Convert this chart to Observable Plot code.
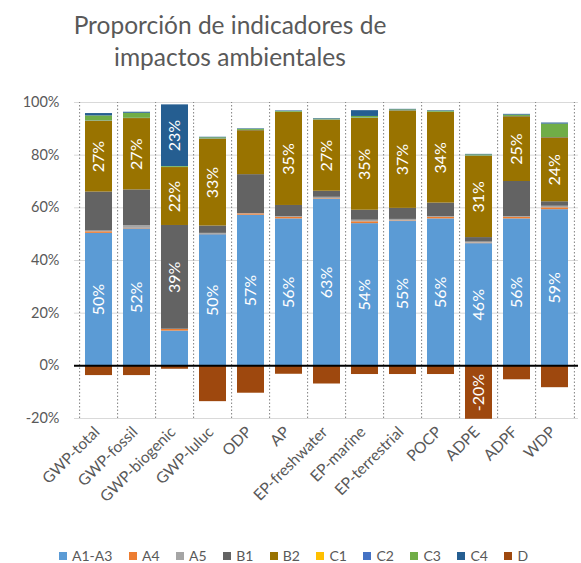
<!DOCTYPE html>
<html>
<head>
<meta charset="utf-8">
<script src="https://cdn.jsdelivr.net/npm/d3@7"></script>
<script src="https://cdn.jsdelivr.net/npm/@observablehq/plot@0.6"></script>
<style>
  body { margin: 0; background: #fff; font-family: Lato, "Open Sans", sans-serif; }
  #wrap { position: relative; width: 581px; height: 563px; }
  #title { position: absolute; left: 0; top: 9px; width: 460px; text-align: center;
           font-size: 24.5px; line-height: 32px; color: #595959; }
  #chart { position: absolute; left: 0; top: 80px; }
  #legend { position: absolute; left: 59px; top: 548px; display: flex; align-items: center;
            font-size: 14px; color: #595959; line-height: 15px; height: 15px; }
  .item { display: flex; align-items: center; margin-right: 16.5px; }
  .sw { width: 8px; height: 8px; margin-right: 5px; }
</style>
</head>
<body>
<div id="wrap">
  <div id="title">Proporción de indicadores de<br>impactos ambientales</div>
  <div id="chart"></div>
  <div id="legend"></div>
</div>
<script>
const categories = ["GWP-total","GWP-fossil","GWP-biogenic","GWP-luluc","ODP","AP","EP-freshwater","EP-marine","EP-terrestrial","POCP","ADPE","ADPF","WDP"];
const seriesNames = ["A1-A3","A4","A5","B1","B2","C1","C2","C3","C4","D"];
const colors = ["#5B9BD5","#ED7D31","#A5A5A5","#636363","#997300","#FFC000","#4472C4","#70AD47","#255E91","#9E480E"];

const A1A3 = [50.3, 52.0, 13.2, 49.8, 57.2, 55.8, 63.3, 54.0, 54.8, 55.8, 46.4, 55.8, 59.3];
const A4   = [0.6, 0.2, 0.6, 0.1, 0.5, 0.6, 0.2, 0.7, 0.2, 0.6, 0.2, 0.6, 0.7];
const A5   = [0.3, 1.0, 0.1, 0.4, 0.1, 0.2, 0.5, 0.6, 0.6, 0.2, 0.4, 0.2, 0.6];
const B1   = [14.8, 13.6, 39.4, 2.8, 14.8, 4.3, 2.3, 3.8, 4.2, 5.2, 1.7, 13.4, 1.7];
const B2   = [26.9, 27.1, 22.0, 33.0, 16.7, 35.3, 27.0, 34.9, 37.0, 34.4, 30.9, 24.6, 24.3];
const C1   = [0, 0, 0, 0, 0, 0, 0, 0, 0, 0, 0, 0, 0];
const C2   = [0.1, 0.1, 0.1, 0.1, 0.1, 0.1, 0.1, 0.1, 0.1, 0.1, 0.1, 0.1, 0.1];
const C3   = [1.9, 1.9, 0.3, 0.4, 0.4, 0.3, 0.3, 0.6, 0.3, 0.4, 0.4, 0.5, 5.1];
const C4   = [0.9, 0.4, 23.4, 0.2, 0.2, 0.2, 0.2, 2.2, 0.2, 0.2, 0.2, 0.3, 0.4];
const D    = [-3.7, -3.7, -1.3, -13.6, -10.4, -3.2, -6.9, -3.3, -3.3, -3.3, -20.3, -5.3, -8.3];
const yTicks = [-20, 0, 20, 40, 60, 80, 100];

const seriesValues = [A1A3, A4, A5, B1, B2, C1, C2, C3, C4, D];
const data = [];
seriesNames.forEach((s, si) => {
  categories.forEach((c, ci) => {
    data.push({category: c, series: s, value: seriesValues[si][ci]});
  });
});

const W = 581, mL = 74, mR = 3;
const step = (W - mL - mR) / categories.length;
const fmt = v => Math.abs(v) >= 19.5 ? Math.round(v) + "%" : "";

const chart = Plot.plot({
  width: W,
  height: 450,
  marginLeft: mL,
  marginRight: mR,
  marginTop: 22,
  marginBottom: 112,
  style: {fontFamily: "Lato, sans-serif", color: "#595959", background: "transparent"},
  x: {domain: categories, paddingInner: 0.3, paddingOuter: 0.15, label: null},
  y: {domain: [-20, 100], label: null},
  color: {domain: seriesNames, range: colors},
  marks: [
    Plot.ruleY(yTicks.filter(d => d !== 0), {stroke: "#d9d9d9", strokeWidth: 1}),
    Plot.ruleX(categories, {x: d => d, y1: -20, y2: 100, dx: -step / 2, stroke: "#808080", strokeDasharray: "1.5,2"}),
    Plot.ruleX(categories.slice(-1), {x: d => d, y1: -20, y2: 100, dx: step / 2, stroke: "#808080", strokeDasharray: "1.5,2"}),
    Plot.barY(data, Plot.stackY({x: "category", y: "value", z: "series", fill: "series"})),
    Plot.ruleY([0], {stroke: "#000", strokeWidth: 2}),
    Plot.text(data, Plot.stackY({x: "category", y: "value", z: "series", text: d => fmt(d.value),
      rotate: -90, fill: "white", fontSize: 16})),
    Plot.axisY({ticks: yTicks, tickFormat: d => d + "%", tickSize: 0, tickPadding: 15, fontSize: 14.5, fill: "#595959"}),
    Plot.axisX({tickSize: 0, tickPadding: 11, tickRotate: -45, fontSize: 15.5, fill: "#595959", dx: -2})
  ]
});
document.getElementById("chart").appendChild(chart);

const legend = document.getElementById("legend");
seriesNames.forEach((s, i) => {
  const item = document.createElement("div");
  item.className = "item";
  const sw = document.createElement("div");
  sw.className = "sw";
  sw.style.background = colors[i];
  const lab = document.createElement("span");
  lab.textContent = s;
  item.appendChild(sw);
  item.appendChild(lab);
  legend.appendChild(item);
});
</script>
</body>
</html>
